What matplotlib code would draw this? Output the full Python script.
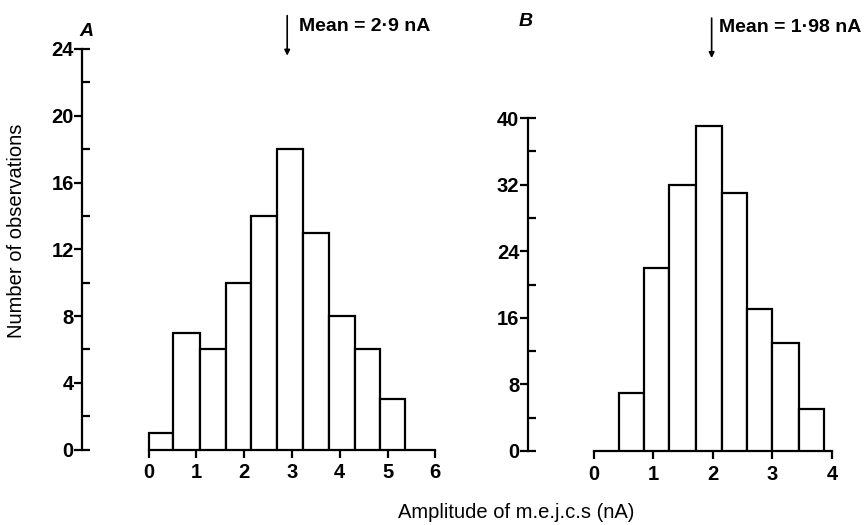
import matplotlib
matplotlib.use("Agg")
import matplotlib.pyplot as plt
from matplotlib.ticker import FixedLocator

# ---- data ----
edges_a = [0.0, 0.52, 1.07, 1.61, 2.15, 2.69, 3.23, 3.78, 4.31, 4.84, 5.37]
counts_a = [1, 7, 6, 10, 14, 18, 13, 8, 6, 3]
mean_a = 2.9
xticks_a = [0, 1, 2, 3, 4, 5, 6]
yticks_a = [0, 4, 8, 12, 16, 20, 24]
yminor_a = [0, 2, 6, 10, 14, 18, 22, 24]

edges_b = [0.425, 0.84, 1.27, 1.71, 2.15, 2.58, 3.0, 3.44, 3.86]
counts_b = [7, 22, 32, 39, 31, 17, 13, 5]
mean_b = 1.98
xticks_b = [0, 1, 2, 3, 4]
yticks_b = [0, 8, 16, 24, 32, 40]
yminor_b = [0, 4, 12, 20, 28, 36, 40]

ylabel = "Number of observations"
xlabel = "Amplitude of m.e.j.c.s (nA)"
mean_text_a = "Mean = 2\u00b79 nA"
mean_text_b = "Mean = 1\u00b798 nA"

plt.rcParams['font.family'] = ['Liberation Sans', 'DejaVu Sans']

W, H = 867, 525
fig = plt.figure(figsize=(W / 100, H / 100), dpi=100)

def px_axes(left, right, top, bottom):
    return fig.add_axes([left / W, 1 - bottom / H, (right - left) / W, (bottom - top) / H])

LW = 1.6
TICKFS = 14.5

def style(ax, xmin_spine, xmax, ymax, xticks, yticks, yminor, edges, counts):
    widths = [edges[i + 1] - edges[i] for i in range(len(counts))]
    ax.bar(edges[:-1], counts, width=widths, align='edge', facecolor='white',
           edgecolor='black', linewidth=LW, zorder=3)
    ax.set_xlim(xmin_spine, xmax)
    ax.set_ylim(0, ymax)
    for s in ['top', 'right']:
        ax.spines[s].set_visible(False)
    ax.spines['left'].set_linewidth(LW)
    ax.spines['bottom'].set_linewidth(LW)
    ax.spines['bottom'].set_bounds(xticks[0], xticks[-1])
    ax.spines['left'].set_bounds(0, ymax)
    ax.set_xticks(xticks)
    ax.set_yticks(yticks)
    ax.yaxis.set_minor_locator(FixedLocator(yminor))
    ax.yaxis.remove_overlapping_locs = False
    ax.tick_params(axis='y', which='major', direction='out', length=5.5, width=LW,
                   pad=0.5, labelsize=TICKFS)
    ax.tick_params(axis='y', which='minor', direction='in', length=6, width=LW)
    ax.tick_params(axis='x', which='major', direction='out', length=6, width=LW,
                   pad=4, labelsize=TICKFS)
    for lab in ax.get_xticklabels() + ax.get_yticklabels():
        lab.set_fontweight('bold')
    ax.patch.set_visible(False)

# Panel A
axA = px_axes(82, 435.3, 49, 449.5)
style(axA, -1.395, 6, 24, xticks_a, yticks_a, yminor_a, edges_a, counts_a)
axA.annotate('', xy=(mean_a, 23.6), xytext=(mean_a, 26.0),
             arrowprops=dict(arrowstyle='-|>', color='black', lw=1.2,
                             mutation_scale=8, shrinkA=0, shrinkB=0),
             annotation_clip=False)
axA.text(mean_a + 0.25, 25.35, mean_text_a, fontsize=14, fontweight='bold',
         va='center', ha='left', clip_on=False)
fig.text(86 / W, 1 - 31 / H, 'A', fontsize=14, fontstyle='italic', fontweight='bold',
         ha='center', va='center')

# Panel B
axB = px_axes(527.7, 832, 118, 451)
style(axB, -1.107, 4, 40, xticks_b, yticks_b, yminor_b, edges_b, counts_b)
axB.annotate('', xy=(mean_b, 47.2), xytext=(mean_b, 52.0),
             arrowprops=dict(arrowstyle='-|>', color='black', lw=1.2,
                             mutation_scale=8, shrinkA=0, shrinkB=0),
             annotation_clip=False)
axB.text(mean_b + 0.12, 50.9, mean_text_b, fontsize=14, fontweight='bold',
         va='center', ha='left', clip_on=False)
fig.text(526 / W, 1 - 21 / H, 'B', fontsize=14, fontstyle='italic', fontweight='bold',
         ha='center', va='center')

fig.text(17 / W, 1 - 231 / H, ylabel, rotation=90, fontsize=14.5, ha='center', va='center')
fig.text(516 / W, 1 - 512 / H, xlabel, fontsize=14.5, ha='center', va='center')

fig.savefig('out.png', dpi=100)
